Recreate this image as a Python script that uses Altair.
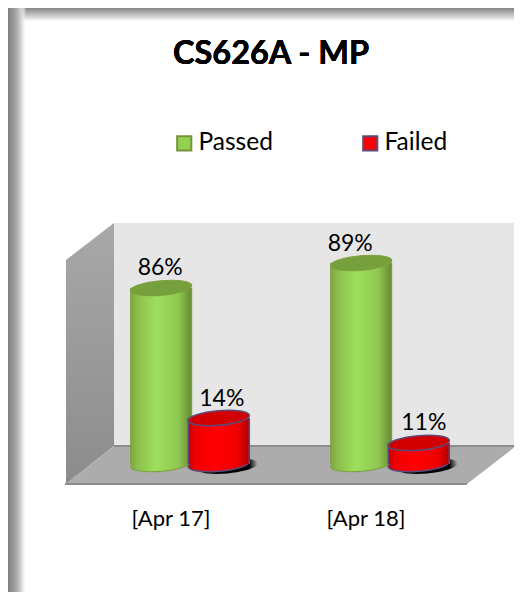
import altair as alt
import pandas as pd

# ---- chart values
TITLE = "CS626A - MP"
periods = ["[Apr 17]", "[Apr 18]"]
series = ["Passed", "Failed"]
passed = [86, 89]
failed = [14, 11]

FONT = "Lato"
W, H = 506, 584

rows = []
for i, p in enumerate(periods):
    rows.append({"period": p, "series": "Passed", "value": passed[i], "slot": i - 0.144})
    rows.append({"period": p, "series": "Failed", "value": failed[i], "slot": i + 0.144})
df = pd.DataFrame(rows)
df["zero"] = 0
df["label"] = df["value"].astype(str) + "%"

# The 3-D picture's value axis is not linear, so the scale is piecewise.
y_scale = alt.Scale(domain=[0, 11, 14, 86, 89], range=[456, 435, 410, 280, 255])
x_scale = alt.Scale(domain=[0, 1], range=[182, 382], padding=0, nice=False, zero=False)

X = alt.X("slot:Q", scale=x_scale, axis=None)
Y = alt.Y("value:Q", scale=y_scale, axis=None)
Y0 = alt.Y("zero:Q", scale=y_scale, axis=None)


def grad(stops, horizontal=True):
    st = [alt.GradientStop(offset=o, color=c) for o, c in stops]
    return alt.Gradient(gradient="linear", stops=st, x1=0, x2=1 if horizontal else 0,
                        y1=0, y2=0 if horizontal else 1)


GREEN = grad([(0, "#7ea73f"), (0.12, "#8cc04c"), (0.42, "#9ddf5c"), (0.78, "#8fc750"), (1, "#678a33")])
RED = grad([(0, "#c80000"), (0.12, "#ef0000"), (0.45, "#ff0000"), (0.8, "#f00000"), (1, "#b00000")])
ELLIPSE = "M-1,0A1,0.24 0 1 1 1,0A1,0.24 0 1 1 -1,0Z"
CYL_SIZE = 61.5 ** 2


def area(points, fill):
    d = pd.DataFrame(points, columns=["px", "top", "bot"])
    return alt.Chart(d).mark_area(color=fill).encode(
        x=alt.X("px:Q", scale=None, axis=None),
        y=alt.Y("top:Q", scale=None, axis=None),
        y2="bot:Q",
    )


frame_top = alt.Chart(df).mark_rect(
    color=grad([(0, "#868686"), (0.5, "#c4c4c4"), (1, "rgba(255,255,255,0)")], horizontal=False)
).encode(x=alt.value(0), x2=alt.value(W), y=alt.value(0), y2=alt.value(14))
frame_left = alt.Chart(df).mark_rect(
    color=grad([(0, "#7f7f7f"), (0.45, "#a6a6a6"), (1, "rgba(255,255,255,0)")])
).encode(x=alt.value(0), x2=alt.value(18), y=alt.value(0), y2=alt.value(H))

back_wall = area([(106, 215, 438), (506, 215, 438)], "#e6e6e6")
left_wall = area([(58, 252, 476), (106, 215, 438)],
                 grad([(0, "#a8a8a8"), (1, "#8c8c8c")], horizontal=False))
floor = area([(58, 476, 476), (106, 438, 476), (459, 438, 476), (508, 438, 438)], "#acacac")
floor_back = alt.Chart(df).mark_rule(color="#8c8c8c", strokeWidth=1.5).encode(
    x=alt.value(106), x2=alt.value(506), y=alt.value(438))
floor_front = alt.Chart(df).mark_rule(color="#8c8c8c", strokeWidth=2).encode(
    x=alt.value(57), x2=alt.value(459), y=alt.value(476))

legend = alt.Legend(orient="none", legendX=164, legendY=123, direction="horizontal",
                    columns=2, columnPadding=85, title=None, symbolType="square",
                    symbolSize=200, symbolStrokeWidth=2, labelFont=FONT,
                    labelFontSize=24.5, labelColor="#000000", labelOffset=2, labelLimit=200)
color_enc = alt.Color("series:N", scale=alt.Scale(domain=series, range=["#92d050", "#ff0000"]), legend=legend)
stroke_enc = alt.Stroke("series:N", scale=alt.Scale(domain=series, range=["#76923c", "#5f497a"]), legend=legend)

# flat bars underneath carry the legend's solid swatches
flat = alt.Chart(df).mark_bar(size=60, strokeWidth=1).encode(
    x=X, y=alt.Y("value:Q", scale=y_scale, axis=None, stack=None),
    y2=alt.Y2("zero:Q"), color=color_enc, stroke=stroke_enc,
)


def cylinder(name, body, top, edge, edge_w):
    d = df[df["series"] == name]
    base = alt.Chart(d)
    bottom = base.mark_point(shape=ELLIPSE, size=CYL_SIZE, filled=True, fill=body, angle=355,
                             stroke=edge, strokeWidth=edge_w, opacity=1).encode(x=X, y=Y0)
    bar = base.mark_bar(size=61, fill=body).encode(
        x=X, y=alt.Y("value:Q", scale=y_scale, axis=None, stack=None), y2=alt.Y2("zero:Q"))
    left = base.mark_rule(color=edge, strokeWidth=edge_w, xOffset=-30.5).encode(x=X, y=Y, y2=alt.Y2("zero:Q"))
    right = base.mark_rule(color=edge, strokeWidth=edge_w, xOffset=30.5).encode(x=X, y=Y, y2=alt.Y2("zero:Q"))
    cap = base.mark_point(shape=ELLIPSE, size=CYL_SIZE, filled=True, fill=top, angle=355,
                          stroke=edge, strokeWidth=edge_w, opacity=1).encode(x=X, y=Y)
    return [bottom, bar, left, right, cap]


shadow = alt.Chart(df[df["series"] == "Failed"]).mark_point(
    shape=ELLIPSE, size=CYL_SIZE * 1.02, filled=True, angle=355, opacity=1, xOffset=8, yOffset=2,
    fill=alt.Gradient(gradient="radial", stops=[
        alt.GradientStop(offset=0, color="#000000"),
        alt.GradientStop(offset=0.72, color="#000000"),
        alt.GradientStop(offset=1, color="rgba(0,0,0,0)")]),
).encode(x=X, y=Y0)

# value labels: the picture's 3-D layout nudges each one differently
nudges = {("Passed", 86): (-1, -20), ("Failed", 14): (3, -19),
          ("Passed", 89): (-11, -19), ("Failed", 11): (5, -20)}
labels = []
for _, r in df.iterrows():
    dx, dy = nudges[(r["series"], r["value"])]
    labels.append(
        alt.Chart(df[(df["series"] == r["series"]) & (df["period"] == r["period"])]).mark_text(
            font=FONT, fontSize=23, color="#000000", dx=dx, dy=dy, baseline="middle"
        ).encode(x=X, y=Y, text="label:N")
    )

cat_labels = alt.Chart(pd.DataFrame({"period": periods})).mark_text(
    font=FONT, fontSize=22, color="#000000"
).encode(
    x=alt.X("period:N", scale=alt.Scale(type="point", domain=periods, range=[163, 358], padding=0), axis=None),
    y=alt.value(511), text="period:N",
)

title = alt.Chart(df).mark_text(
    text=TITLE, font=FONT, fontSize=32.5, fontWeight="bold", color="#000000"
).encode(x=alt.value(263), y=alt.value(46))

layers = [frame_top, frame_left, back_wall, left_wall, floor, floor_back, floor_front, flat, shadow]
layers += cylinder("Passed", GREEN, "#76a03c", "#7f9f40", 1)
layers += cylinder("Failed", RED, "#d20000", "#5f497a", 1.5)
layers += labels + [cat_labels, title]

chart = alt.layer(*layers).resolve_scale(
    x="independent", y="independent", color="shared", stroke="shared"
).properties(
    width=W, height=H, padding=0, background="#ffffff",
    autosize=alt.AutoSizeParams(type="none"),
).configure_view(stroke=None)

chart.save("out.html", embed_options={"renderer": "svg", "actions": False})
